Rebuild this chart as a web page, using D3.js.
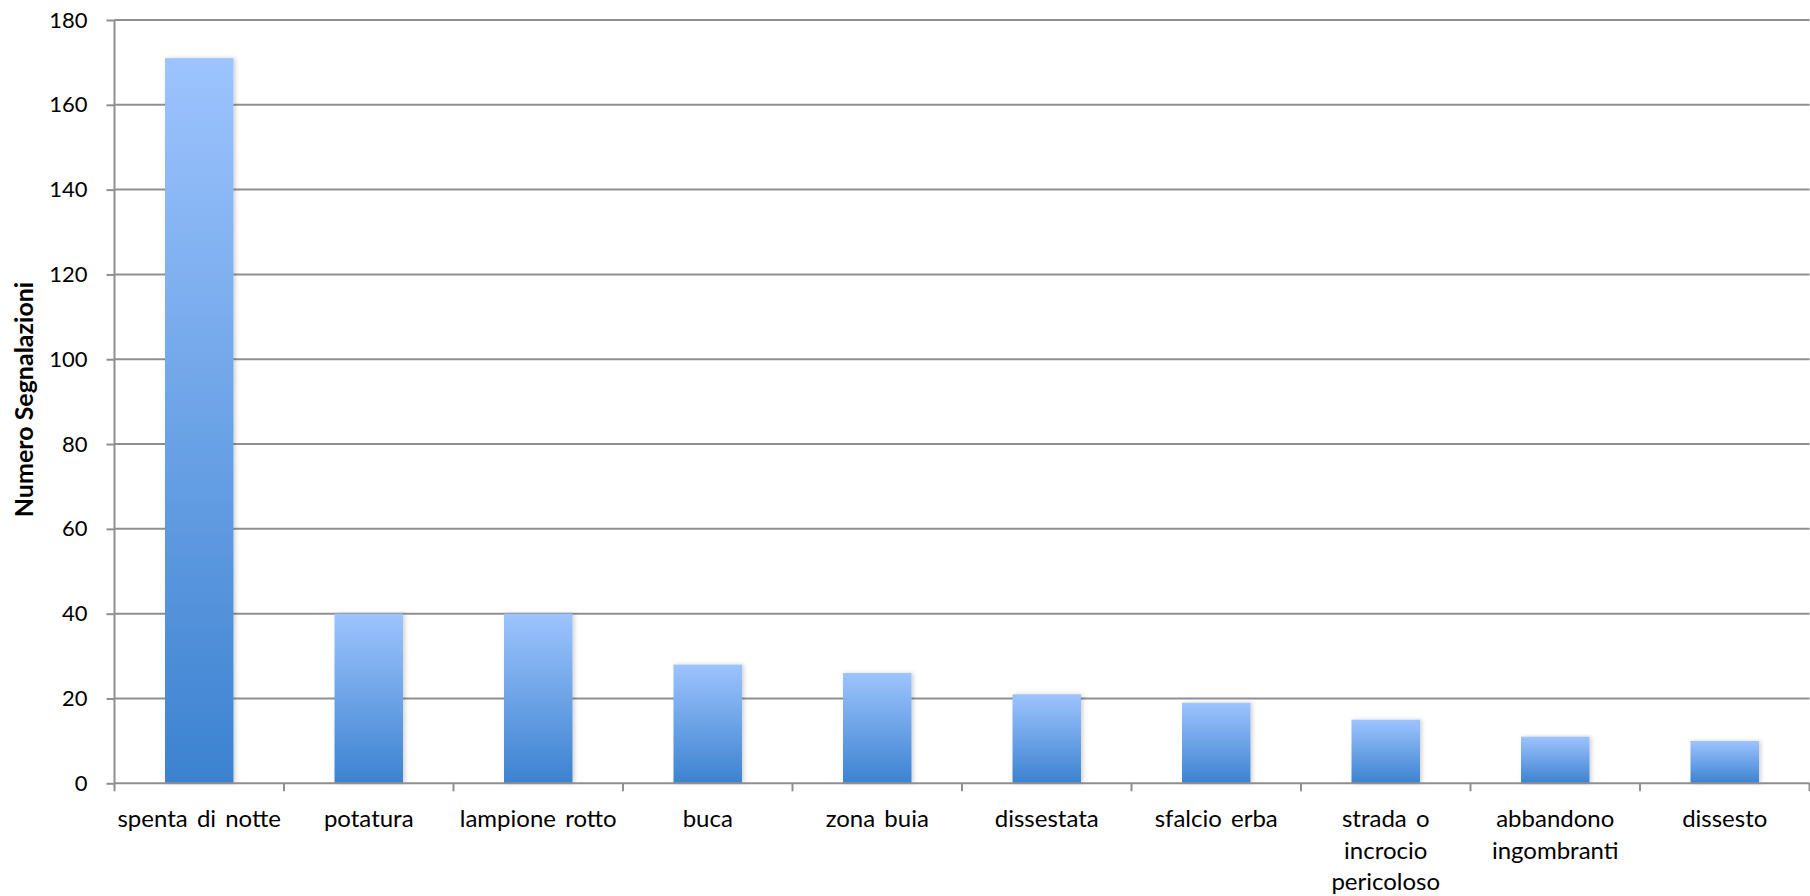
<!DOCTYPE html>
<html><head><meta charset="utf-8">
<script src="https://cdn.jsdelivr.net/npm/d3@7"></script>
<style>body{margin:0;background:#fff;} text{font-family:Lato,"Open Sans",sans-serif;}</style>
</head><body>
<svg id="c" width="1810" height="896"></svg>
<script>
const categories = ["spenta di notte","potatura","lampione rotto","buca","zona buia","dissestata","sfalcio erba","strada o incrocio pericoloso","abbandono ingombranti","dissesto"];
const labelLines = [["spenta di notte"],["potatura"],["lampione rotto"],["buca"],["zona buia"],["dissestata"],["sfalcio erba"],["strada o","incrocio","pericoloso"],["abbandono","ingombranti"],["dissesto"]];
const values = [171,40,40,28,26,21,19,15,11,10];
const yTicks = [0,20,40,60,80,100,120,140,160,180];
const yTitle = "Numero Segnalazioni";

const svg = d3.select("#c");
const m = {l:114.5, r:1809.5, t:20, b:783.3};
const x = d3.scaleBand().domain(categories).range([m.l, m.r]).paddingInner(0.596).paddingOuter(0.298);
const xs = d3.scaleBand().domain(categories).range([m.l, m.r]);
const y = d3.scaleLinear().domain([0,180]).range([m.b, m.t]);

const defs = svg.append("defs");
const g = defs.append("linearGradient").attr("id","bg").attr("x1",0).attr("y1",0).attr("x2",0).attr("y2",1);
g.append("stop").attr("offset","0%").attr("stop-color","#9dc4fe");
g.append("stop").attr("offset","100%").attr("stop-color","#3c82d0");
const f = defs.append("filter").attr("id","sh").attr("x","-10%").attr("y","-5%").attr("width","130%").attr("height","110%");
f.append("feDropShadow").attr("dx",2).attr("dy",0).attr("stdDeviation",2).attr("flood-color","#000").attr("flood-opacity",0.18);

const gridColor = "#8f8f8f";
svg.append("g").selectAll("line").data(yTicks.filter(d=>d>0)).join("line")
  .attr("x1",m.l).attr("x2",m.r).attr("y1",d=>y(d)).attr("y2",d=>y(d))
  .attr("stroke",gridColor).attr("stroke-width",2);

svg.append("g").selectAll("rect").data(values).join("rect")
  .attr("x",(d,i)=>x(categories[i])).attr("width",x.bandwidth())
  .attr("y",d=>y(d)).attr("height",d=>y(0)-y(d))
  .attr("fill","url(#bg)").attr("filter","url(#sh)");

const ya = svg.append("g").attr("transform",`translate(${m.l},0)`)
  .call(d3.axisLeft(y).tickValues(yTicks).tickSize(8).tickPadding(19));
ya.select(".domain").attr("stroke",gridColor).attr("stroke-width",2).attr("d",`M0,${m.t}V${m.b}`);
ya.selectAll(".tick line").attr("stroke",gridColor).attr("stroke-width",2);
ya.selectAll(".tick text").attr("font-family","Lato").attr("font-size",22).attr("fill","#000");

svg.append("line").attr("x1",m.l).attr("x2",m.r).attr("y1",y(0)).attr("y2",y(0)).attr("stroke",gridColor).attr("stroke-width",2);
const tickPos = categories.map(c=>xs(c)).concat([m.r]);
svg.append("g").selectAll("line").data(tickPos).join("line")
  .attr("x1",d=>d).attr("x2",d=>d).attr("y1",y(0)).attr("y2",y(0)+8)
  .attr("stroke",gridColor).attr("stroke-width",2);

const xl = svg.append("g").selectAll("text").data(categories).join("text")
  .attr("x",c=>xs(c)+xs.bandwidth()/2).attr("y",827)
  .attr("text-anchor","middle").attr("font-size",24).attr("word-spacing",3).attr("fill","#000");
xl.each(function(c,i){
  d3.select(this).selectAll("tspan").data(labelLines[i]).join("tspan")
    .attr("x",xs(c)+xs.bandwidth()/2).attr("dy",(d,j)=>j===0?0:31.7).text(d=>d);
});

svg.append("text").attr("transform",`translate(33,399.5) rotate(-90)`)
  .attr("text-anchor","middle").attr("font-weight","bold").attr("font-size",25).attr("fill","#000").text(yTitle);
</script>
</body></html>
